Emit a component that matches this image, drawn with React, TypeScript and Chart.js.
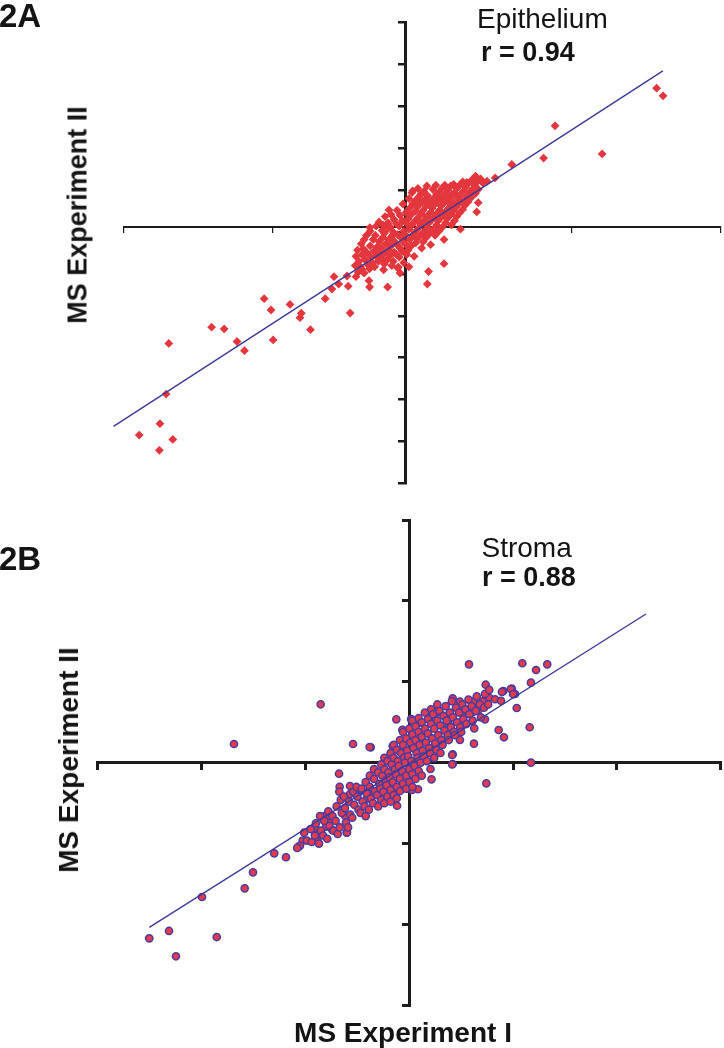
import React, { useEffect, useRef } from "react";
import { Chart, registerables } from "chart.js";

Chart.register(...registerables);

type Pt = [number, number];

// ---------- Panel 2A : Epithelium ----------
const epiXTicks = [-1.891, -0.891, 0.109, 1.109, 2.109];
const epiYTicks = [4.88, 3.88, 2.88, 1.88, 0.88, -0.12, -1.12, -2.12, -3.12, -4.12, -5.12, -6.12];
const epiFit: Pt[] = [[-1.959, -4.759], [1.721, 3.73]];
const epiOutliers: Pt[] = [
  [1.679, 3.317], [1.722, 3.134], [0.999, 2.418], [1.314, 1.745], [0.922, 1.647], [0.709, 1.494],
  [0.597, 1.172], [0.543, 1.095], [0.466, 1.217], [0.484, 0.582], [0.474, 0.36], [0.255, -0.876],
  [0.143, -1.36], [0.151, -1.062], [-0.242, -0.012], [-0.114, 0.408], [-0.123, -1.432], [-0.244, -1.432],
  [-0.248, -1.282], [-0.374, -2.053], [-0.482, -1.186], [-0.541, -1.711], [-0.64, -2.451], [-0.701, -2.057],
  [-0.71, -2.165], [-0.777, -1.847], [-0.89, -2.697], [-0.904, -1.981], [-0.95, -1.711], [-1.082, -2.952],
  [-1.132, -2.733], [-1.218, -2.434], [-1.302, -2.391], [-1.589, -2.78], [-1.607, -3.99], [-1.96, -4.702],
  [-1.787, -4.969], [-1.648, -4.695], [-1.562, -5.072], [-1.652, -5.332], [0.045, 0.866], [0.1, 0.783],
  [-0.496, -1.48], [-0.395, -1.169], [-0.387, -1.413], [-0.451, -1.36], [-0.335, -1.186], [-0.297, -1.002],
  [0.407, 1.064], [0.216, 0.811], [0.283, 0.692], [-0.052, -0.955], [-0.04, -1.098], [-0.152, 0.048],
];
const epiCluster: Pt[] = [
  [-0.34, -0.92], [-0.335, -0.7], [-0.32, -1.08], [-0.325, -0.55], [-0.315, -0.82],
  [-0.3, -0.4], [-0.295, -0.66], [-0.305, -0.95], [-0.28, -0.3], [-0.275, -0.78], [-0.285, -0.52], [-0.28, -1.1],
  [-0.26, -0.62], [-0.255, -0.9], [-0.265, -0.2], [-0.24, -0.45], [-0.235, -0.72], [-0.245, -1.0], [-0.24, -0.1],
  [-0.22, -0.3], [-0.215, -0.58], [-0.225, -0.85], [-0.2, 0.02], [-0.205, -0.2], [-0.195, -0.48], [-0.2, -0.7], [-0.21, -0.95],
  [-0.18, -0.35], [-0.175, -0.62], [-0.185, -0.82], [-0.18, 0.12], [-0.16, -0.08], [-0.155, -0.25], [-0.165, -0.5], [-0.16, -0.75], [-0.15, -1.02],
  [-0.14, 0.25], [-0.145, -0.15], [-0.135, -0.4], [-0.14, -0.62], [-0.145, -0.88], [-0.12, 0.1], [-0.125, -0.05], [-0.115, -0.3], [-0.12, -0.55], [-0.125, -0.78],
  [-0.1, 0.3], [-0.105, 0.0], [-0.095, -0.22], [-0.1, -0.45], [-0.105, -0.68], [-0.095, -0.92],
  [-0.08, 0.18], [-0.085, -0.12], [-0.075, -0.35], [-0.08, -0.6], [-0.085, -0.82],
  [-0.06, 0.4], [-0.065, 0.08], [-0.055, -0.18], [-0.06, -0.42], [-0.065, -0.65], [-0.055, -0.98],
  [-0.04, 0.28], [-0.045, 0.02], [-0.035, -0.25], [-0.04, -0.5], [-0.045, -0.72],
  [-0.02, 0.55], [-0.025, 0.15], [-0.015, -0.1], [-0.02, -0.35], [-0.025, -0.58], [-0.015, -0.85],
  [0.0, 0.35], [0.005, 0.08], [-0.005, -0.18], [0.0, -0.42], [0.005, -0.66],
  [0.02, 0.68], [0.025, 0.45], [0.015, 0.2], [0.02, -0.05], [0.025, -0.3], [0.015, -0.55], [0.02, -0.95],
  [0.04, 0.82], [0.045, 0.55], [0.035, 0.3], [0.04, 0.05], [0.045, -0.2], [0.035, -0.45],
  [0.06, 0.62], [0.065, 0.38], [0.055, 0.12], [0.06, -0.12], [0.065, -0.38], [0.055, -0.7],
  [0.08, 0.92], [0.085, 0.72], [0.075, 0.48], [0.08, 0.22], [0.085, -0.02], [0.075, -0.28],
  [0.1, 0.58], [0.105, 0.32], [0.095, 0.08], [0.1, -0.18], [0.105, -0.5],
  [0.12, 0.85], [0.125, 0.65], [0.115, 0.4], [0.12, 0.15], [0.125, -0.1], [0.115, -0.35],
  [0.14, 0.98], [0.145, 0.75], [0.135, 0.5], [0.14, 0.25], [0.145, 0.0], [0.135, -0.25],
  [0.16, 0.6], [0.165, 0.35], [0.155, 0.1], [0.16, -0.15], [0.165, -0.42],
  [0.18, 0.9], [0.185, 0.68], [0.175, 0.45], [0.18, 0.2], [0.185, -0.05],
  [0.2, 1.0], [0.205, 0.78], [0.195, 0.55], [0.2, 0.3], [0.205, 0.05], [0.195, -0.2],
  [0.22, 0.65], [0.225, 0.4], [0.215, 0.15], [0.22, -0.1],
  [0.24, 0.92], [0.245, 0.72], [0.235, 0.5], [0.24, 0.25], [0.245, 0.0],
  [0.26, 1.0], [0.265, 0.8], [0.255, 0.58], [0.26, 0.35], [0.265, 0.1], [0.255, -0.3],
  [0.28, 0.68], [0.285, 0.45], [0.275, 0.2], [0.28, 0.88],
  [0.3, 0.98], [0.305, 0.76], [0.295, 0.55], [0.3, 0.3], [0.305, 0.05],
  [0.32, 1.02], [0.325, 0.82], [0.315, 0.6], [0.32, 0.4], [0.325, 0.15],
  [0.34, 0.92], [0.345, 0.7], [0.335, 0.48], [0.34, 0.25],
  [0.36, 1.0], [0.365, 0.78], [0.355, 0.56], [0.36, 0.34], [0.365, -0.05],
  [0.38, 1.08], [0.385, 0.86], [0.375, 0.62], [0.38, 0.42],
  [0.4, 0.95], [0.405, 0.72], [0.395, 0.52],
  [0.42, 1.05], [0.425, 0.82], [0.415, 0.6], [0.44, 1.12], [0.445, 0.9], [0.435, 0.7],
  [0.46, 1.0], [0.465, 0.8], [0.48, 1.1], [0.485, 0.9], [0.5, 1.15], [0.515, 1.05],
];

// ---------- Panel 2B : Stroma ----------
const strXTicks = [-3, -2, -1, 0, 1, 2, 3];
const strYTicks = [-3, -2, -1, 0, 1, 2, 3];
const strFit: Pt[] = [[-2.505, -2.035], [2.28, 1.838]];
const strOutliers: Pt[] = [
  [-0.854, 0.722], [-1.689, 0.231], [-0.542, 0.231], [-0.372, 0.19], [-0.16, 0.206], [-0.125, 0.536],
  [0.019, 0.536], [-0.677, -0.136], [-0.671, -0.297], [-0.674, -0.358], [-0.571, -0.288], [-0.571, -0.387],
  [-0.482, -0.358], [-0.118, -0.532], [-0.603, -0.865], [-0.815, -0.659], [-0.764, -0.708], [-1.012, -0.865],
  [-0.931, -0.823], [-0.882, -0.968], [-1.027, -0.964], [-1.066, -1.038], [-1.301, -1.12], [-1.188, -1.169],
  [-1.506, -1.355], [-1.586, -1.553], [-1.997, -1.66], [-2.315, -2.08], [-2.505, -2.171], [-1.855, -2.155],
  [-2.248, -2.393], [0.575, 1.216], [1.089, 1.229], [1.221, 1.146], [1.329, 1.216], [1.172, 0.989],
  [0.736, 0.964], [0.906, 0.886], [0.987, 0.915], [1.018, 0.849], [1.035, 0.676], [1.16, 0.438],
  [0.861, 0.404], [0.912, 0.314], [0.623, 0.235], [0.418, 0.796], [0.488, 0.754], [0.617, 0.759],
  [0.707, 0.759], [0.771, 0.803], [0.826, 0.784], [0.883, 0.766], [1.172, 0.0], [0.742, -0.255],
  [0.418, 0.104], [0.418, -0.016], [0.617, 0.63], [0.655, 0.66], [0.729, 0.536], [0.626, 0.425],
  [0.488, 0.281], [0.376, 0.487], [0.264, 0.618], [0.193, 0.553], [0.096, 0.494], [-0.064, 0.404],
  [0.978, 0.911], [1.001, 0.847], [0.893, 0.876], [0.392, 0.614], [0.516, 0.63], [0.592, 0.627],
  [0.667, 0.656], [0.257, 0.627], [0.089, 0.497], [0.018, 0.54], [-0.066, 0.407], [-0.382, 0.194],
  [0.413, 0.095], [0.413, -0.021], [0.084, -0.328], [-0.026, -0.319], [0.026, -0.337], [0.214, -0.206],
  [0.204, -0.078], [-0.218, -0.357], [-0.253, -0.466], [-0.142, -0.399], [-0.462, -0.337], [-0.408, -0.444],
  [-0.364, -0.379], [-0.618, -0.659], [-0.6, -0.863], [-0.774, -0.659], [-0.8, -0.79], [-0.742, -0.832],
  [-0.903, -0.811], [-0.884, -0.876], [-0.987, -0.962], [-1.053, -1.027], [-1.08, -1.053],
];
const strCluster: Pt[] = [
  [-0.95, -0.82], [-0.94, -0.98], [-0.9, -0.75], [-0.91, -0.9], [-0.86, -0.66], [-0.85, -0.84], [-0.87, -1.0],
  [-0.82, -0.72], [-0.83, -0.9], [-0.78, -0.6], [-0.77, -0.78], [-0.79, -0.94], [-0.74, -0.66], [-0.73, -0.84],
  [-0.7, -0.54], [-0.71, -0.72], [-0.69, -0.88], [-0.66, -0.46], [-0.65, -0.62], [-0.67, -0.8],
  [-0.62, -0.56], [-0.61, -0.74], [-0.63, -0.42], [-0.58, -0.48], [-0.57, -0.64], [-0.59, -0.8],
  [-0.54, -0.36], [-0.53, -0.52], [-0.55, -0.68], [-0.5, -0.42], [-0.49, -0.58], [-0.51, -0.3],
  [-0.46, -0.32], [-0.45, -0.48], [-0.47, -0.62], [-0.42, -0.24], [-0.41, -0.38], [-0.43, -0.54], [-0.42, -0.66],
  [-0.38, -0.3], [-0.37, -0.44], [-0.39, -0.58], [-0.38, -0.16], [-0.34, -0.2], [-0.33, -0.35], [-0.35, -0.5], [-0.34, -0.08],
  [-0.3, -0.12], [-0.29, -0.26], [-0.31, -0.4], [-0.3, -0.54], [-0.27, -0.02], [-0.26, -0.16], [-0.28, -0.32], [-0.27, -0.46],
  [-0.24, -0.08], [-0.23, -0.22], [-0.25, -0.36], [-0.24, -0.5], [-0.24, 0.06], [-0.21, 0.02], [-0.2, -0.12], [-0.22, -0.28], [-0.21, -0.42],
  [-0.18, 0.12], [-0.17, -0.02], [-0.19, -0.18], [-0.18, -0.34], [-0.18, -0.48], [-0.15, 0.06], [-0.14, -0.08], [-0.16, -0.24], [-0.15, -0.4], [-0.15, 0.22],
  [-0.12, 0.16], [-0.11, 0.02], [-0.13, -0.14], [-0.12, -0.3], [-0.12, -0.44], [-0.09, 0.28], [-0.08, 0.12], [-0.1, -0.04], [-0.09, -0.2], [-0.09, -0.35],
  [-0.06, 0.22], [-0.05, 0.06], [-0.07, -0.1], [-0.06, -0.26], [-0.06, 0.38], [-0.03, 0.3], [-0.02, 0.15], [-0.04, 0.0], [-0.03, -0.16], [-0.03, -0.32],
  [0.0, 0.42], [0.01, 0.25], [-0.01, 0.08], [0.0, -0.08], [0.0, -0.24], [0.03, 0.35], [0.04, 0.18], [0.02, 0.02], [0.03, -0.14], [0.03, -0.3], [0.03, 0.52],
  [0.06, 0.28], [0.07, 0.12], [0.05, -0.04], [0.06, -0.2], [0.06, 0.45], [0.09, 0.38], [0.1, 0.22], [0.08, 0.06], [0.09, -0.1], [0.09, 0.55],
  [0.12, 0.32], [0.13, 0.15], [0.11, 0.0], [0.12, 0.5], [0.12, -0.16], [0.15, 0.42], [0.16, 0.25], [0.14, 0.08], [0.15, 0.62],
  [0.18, 0.36], [0.19, 0.18], [0.17, 0.02], [0.18, 0.54], [0.21, 0.48], [0.22, 0.3], [0.2, 0.12], [0.21, 0.66],
  [0.24, 0.42], [0.25, 0.24], [0.23, 0.6], [0.24, 0.06], [0.27, 0.52], [0.28, 0.34], [0.26, 0.16], [0.27, 0.72],
  [0.3, 0.46], [0.31, 0.28], [0.29, 0.64], [0.3, 0.12], [0.33, 0.58], [0.34, 0.4], [0.32, 0.22],
  [0.36, 0.52], [0.37, 0.34], [0.35, 0.7], [0.39, 0.62], [0.4, 0.44], [0.38, 0.28], [0.42, 0.56], [0.43, 0.38], [0.41, 0.76],
  [0.45, 0.68], [0.46, 0.5], [0.44, 0.34], [0.48, 0.62], [0.49, 0.44], [0.51, 0.72], [0.52, 0.54], [0.5, 0.38],
  [0.54, 0.66], [0.55, 0.48], [0.57, 0.78], [0.58, 0.6], [0.6, 0.7], [0.61, 0.52], [0.64, 0.64], [0.65, 0.82],
  [0.68, 0.72], [0.69, 0.56], [0.72, 0.68], [0.73, 0.85], [0.76, 0.72], [0.77, 0.9],
];

const AXIS = "#1c1c1c";
const FIT = "#3c3a98";
const FONT = "'Liberation Sans', Arial, Helvetica, sans-serif";

type AxisStyle = { border: number; tickW: number; tickL: number };
type PanelStyle = {
  padding: { left: number; right: number; top: number; bottom: number };
  x: AxisStyle;
  y: AxisStyle;
  point: any;
};

const toXY = (p: Pt[]) => p.map(([x, y]) => ({ x, y }));

function makeConfig(points: Pt[], fit: Pt[], xTicks: number[], yTicks: number[], s: PanelStyle): any {
  const axis = (ticks: number[], a: AxisStyle, pos: any) => ({
    type: "linear",
    position: pos,
    min: Math.min(...ticks),
    max: Math.max(...ticks),
    afterBuildTicks: (sc: any) => {
      sc.ticks = ticks.map((v) => ({ value: v }));
    },
    ticks: { display: false },
    grid: {
      display: true,
      drawOnChartArea: false,
      drawTicks: true,
      tickLength: a.tickL,
      tickWidth: a.tickW,
      tickColor: AXIS,
      lineWidth: a.tickW,
      color: AXIS,
    },
    border: { display: true, color: AXIS, width: a.border },
  });
  return {
    type: "scatter",
    data: {
      datasets: [
        {
          data: toXY(fit),
          showLine: true,
          borderColor: FIT,
          borderWidth: 1.4,
          pointRadius: 0,
          fill: false,
          order: 0,
          clip: false,
        },
        {
          data: toXY(points),
          order: 1,
          clip: false,
          ...s.point,
        },
      ],
    },
    options: {
      responsive: false,
      animation: false,
      events: [],
      layout: { autoPadding: false, padding: s.padding },
      plugins: { legend: { display: false }, tooltip: { enabled: false }, title: { display: false } },
      scales: {
        x: axis(xTicks, s.x, { y: 0 }),
        y: axis(yTicks, s.y, { x: 0 }),
      },
    },
  };
}

function Panel({ top, height, config }: { top: number; height: number; config: any }) {
  const ref = useRef<HTMLCanvasElement | null>(null);
  useEffect(() => {
    if (!ref.current) return;
    const chart = new Chart(ref.current, config);
    return () => chart.destroy();
  }, []);
  return (
    <canvas
      ref={ref}
      width={724}
      height={height}
      style={{ position: "absolute", left: 0, top, width: 724, height, display: "block" }}
    />
  );
}

function Txt({ x, y, size, bold, children, center }: any) {
  return (
    <div
      style={{
        position: "absolute",
        left: x,
        top: y,
        fontFamily: FONT,
        fontSize: size,
        fontWeight: bold ? 700 : 400,
        lineHeight: 1,
        whiteSpace: "nowrap",
        color: "#141414",
        transform: center ? "translateX(-50%)" : undefined,
      }}
    >
      {children}
    </div>
  );
}

function VTxt({ cx, cy, size, children }: any) {
  return (
    <div
      style={{
        position: "absolute",
        left: cx,
        top: cy,
        fontFamily: FONT,
        fontSize: size,
        fontWeight: 700,
        lineHeight: 1,
        whiteSpace: "nowrap",
        color: "#141414",
        transform: "translate(-50%, -50%) rotate(-90deg)",
      }}
    >
      {children}
    </div>
  );
}

export default function App() {
  const topCfg = makeConfig([...epiOutliers, ...epiCluster], epiFit, epiXTicks, epiYTicks, {
    padding: { left: 123.7, right: 3.2, top: 22.7, bottom: 16.7 },
    x: { border: 2, tickW: 1.2, tickL: 5 },
    y: { border: 3, tickW: 2.5, tickL: 6 },
    point: {
      pointStyle: "rectRot",
      pointRadius: 4.4,
      backgroundColor: "#e3363d",
      borderColor: "#e3363d",
      borderWidth: 0,
    },
  });
  const botCfg = makeConfig([...strOutliers, ...strCluster], strFit, strXTicks, strYTicks, {
    padding: { left: 97.9, right: 3.3, top: 20, bottom: 42.6 },
    x: { border: 3, tickW: 3, tickL: 6 },
    y: { border: 3, tickW: 3, tickL: 6 },
    point: {
      pointStyle: "circle",
      pointRadius: 3.6,
      backgroundColor: "#e23a4f",
      borderColor: "#4a3c9e",
      borderWidth: 1.5,
    },
  });
  return (
    <div style={{ position: "absolute", left: 0, top: 0, width: 724, height: 1048, background: "#fff", overflow: "hidden" }}>
      <Panel top={0} height={500} config={topCfg} />
      <Panel top={500} height={548} config={botCfg} />
      <Txt x={-1} y={-1.2} size={33} bold>2A</Txt>
      <Txt x={477} y={4.6} size={28}>Epithelium</Txt>
      <Txt x={481} y={39.1} size={27} bold>r = 0.94</Txt>
      <VTxt cx={77.8} cy={215} size={27}>MS Experiment II</VTxt>
      <Txt x={-1} y={542.1} size={33} bold>2B</Txt>
      <Txt x={481.5} y={533.9} size={28}>Stroma</Txt>
      <Txt x={482} y={564.1} size={27} bold>r = 0.88</Txt>
      <VTxt cx={68.5} cy={760} size={28}>MS Experiment II</VTxt>
      <Txt x={403} y={1019.3} size={28} bold center>MS Experiment I</Txt>
    </div>
  );
}
